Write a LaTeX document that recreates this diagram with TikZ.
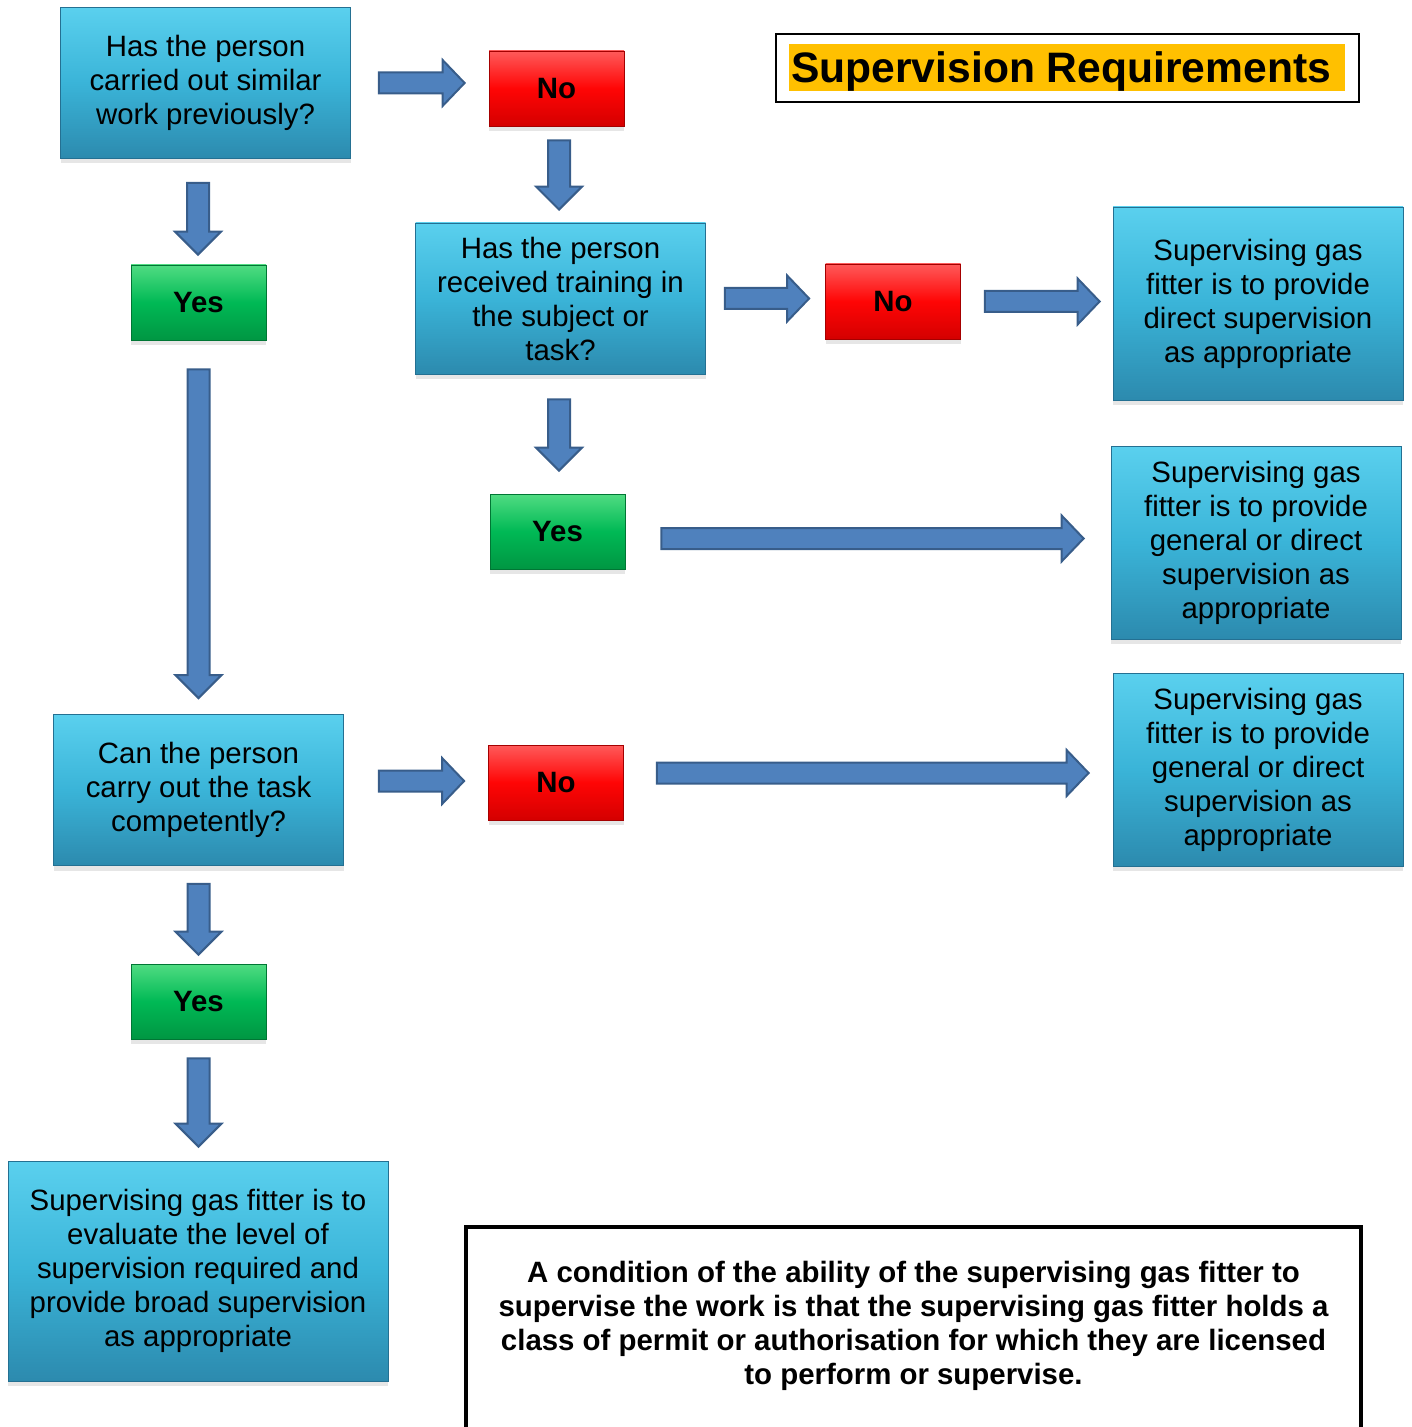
\documentclass[tikz,border=0pt]{standalone}
\usepackage{fontspec}
\setmainfont{Liberation Sans}
\usetikzlibrary{calc,shadows}
\definecolor{boxtop}{RGB}{90,208,238}
\definecolor{boxmid}{RGB}{58,180,216}
\definecolor{boxbot}{RGB}{44,138,174}
\definecolor{boxedge}{RGB}{36,112,146}
\definecolor{yestop}{RGB}{80,220,130}
\definecolor{yesmid}{RGB}{0,185,85}
\definecolor{yesbot}{RGB}{0,150,66}
\definecolor{yesedge}{RGB}{0,118,52}
\definecolor{notop}{RGB}{255,90,90}
\definecolor{nomid}{RGB}{255,5,5}
\definecolor{nobot}{RGB}{212,0,0}
\definecolor{noedge}{RGB}{165,0,0}
\definecolor{arrowfill}{RGB}{79,129,189}
\definecolor{arrowline}{RGB}{56,93,138}
\definecolor{titlebg}{RGB}{255,192,0}

\begin{document}
\begin{tikzpicture}[x=0.5pt, y=-0.5pt,
    every node/.style={
        rectangle,
        inner sep=3pt,
        align=center,
        font=\fontsize{14.7}{17}\selectfont
    },
    question/.style={
        draw=boxedge,
        top color=boxtop, bottom color=boxbot, middle color=boxmid,
        drop shadow={shadow xshift=0pt, shadow yshift=-2.5pt, opacity=0.2},
        minimum width=145pt,
        minimum height=75.5pt
    },
    answer/.style={question, minimum height=96.5pt},
    yesbox/.style={
        draw=yesedge,
        top color=yestop, bottom color=yesbot, middle color=yesmid,
        drop shadow={shadow xshift=0pt, shadow yshift=-2.5pt, opacity=0.2},
        minimum width=67.5pt,
        minimum height=37.5pt,
        font=\fontsize{14.7}{17}\selectfont\bfseries
    },
    nobox/.style={yesbox, draw=noedge,
        top color=notop, bottom color=nobot, middle color=nomid},
    rarrow/.style={draw=arrowline, fill=arrowfill, line width=1pt,
        to path={let \p1=(\tikztostart), \p2=(\tikztotarget) in
            (\x1,\y1+5.25pt) -- (\x2-11pt,\y1+5.25pt) -- (\x2-11pt,\y1+11.5pt) -- (\x2,\y1)
            -- (\x2-11pt,\y1-11.5pt) -- (\x2-11pt,\y1-5.25pt) -- (\x1,\y1-5.25pt) -- cycle}},
    darrow/.style={draw=arrowline, fill=arrowfill, line width=1pt,
        to path={let \p1=(\tikztostart), \p2=(\tikztotarget) in
            (\x1-5.5pt,\y1) -- (\x1-5.5pt,\y2+11.5pt) -- (\x1-11.5pt,\y2+11.5pt) -- (\x1,\y2)
            -- (\x1+11.5pt,\y2+11.5pt) -- (\x1+5.5pt,\y2+11.5pt) -- (\x1+5.5pt,\y1) -- cycle}}
]
    \useasboundingbox (0,0) rectangle (1411,1427);

    \node (title_frame) [draw, line width=1pt, minimum width=291.5pt, minimum height=34pt, shift={(1067.5,68)}] {};
    \node (title) [fill=titlebg, inner sep=1pt, minimum width=275pt, minimum height=23.5pt, text depth=0pt,
        font=\fontsize{21.3}{24}\selectfont\bfseries, shift={(1067,67.5)}]
    {
        Supervision Requirements
    };

    \node (has_done_before) [question, shift={(205.5,83)}]
    {
        Has the person\\carried out similar\\work previously?
    };
    \node (not_done_before) [nobox, shift={(556.5,88.5)}] {No};
    \node (done_before) [yesbox, shift={(198.5,302.5)}] {Yes};
    \node (has_training) [question, shift={(560.5,298.5)}]
    {
        Has the person\\received training in\\the subject or\\task?
    };
    \node (no_training) [nobox, shift={(893,301.5)}] {No};
    \node (direct_supervision) [answer, shift={(1258,303.5)}]
    {
        Supervising gas\\fitter is to provide\\direct supervision\\as appropriate
    };
    \node (trained) [yesbox, shift={(557.5,531.5)}] {Yes};
    \node (trained_supervision) [answer, shift={(1256,542.5)}]
    {
        Supervising gas\\fitter is to provide\\general or direct\\supervision as\\appropriate
    };
    \node (is_competent) [question, shift={(198.5,790)}]
    {
        Can the person\\carry out the task\\competently?
    };
    \node (not_competent) [nobox, shift={(556,782.5)}] {No};
    \node (untrained_supervision) [answer, shift={(1258,769.5)}]
    {
        Supervising gas\\fitter is to provide\\general or direct\\supervision as\\appropriate
    };
    \node (competent) [yesbox, shift={(198.5,1001.5)}] {Yes};
    \node (broad_supervision) [question, minimum width=190pt, minimum height=110pt, shift={(198,1271)}]
    {
        Supervising gas fitter is to\\evaluate the level of\\supervision required and\\provide broad supervision\\as appropriate
    };
    \node (licence_note) [font=\fontsize{14.7}{17}\selectfont\bfseries, shift={(913.5,1326)}]
    {
        A condition of the ability of the supervising gas fitter to\\supervise the work is that the supervising gas fitter holds a\\class of permit or authorisation for which they are licensed\\to perform or supervise.
    };
    \draw[line width=2pt] (466,1450) |- (1361,1227) -- (1361,1450);

    \draw[rarrow] ([xshift=14pt]has_done_before.east) to ([xshift=-12pt]not_done_before.west);
    \draw[darrow] ([xshift=1.25pt, yshift=-7pt]not_done_before.south) to ([yshift=6.5pt]has_training.north);
    \draw[rarrow] ([xshift=9.5pt]has_training.east) to ([xshift=-8pt]no_training.west);
    \draw[rarrow] ([xshift=12pt]no_training.east) to ([xshift=-6.5pt]direct_supervision.west);
    \draw[darrow] ([xshift=-0.75pt, yshift=-12.5pt]has_training.south) to ([yshift=11.5pt]trained.north);
    \draw[rarrow] ([xshift=18pt, yshift=-3.5pt]trained.east) to ([xshift=-13.5pt]trained_supervision.west);
    \draw[darrow] ([xshift=-3.75pt, yshift=-12pt]has_done_before.south) to ([yshift=5pt]done_before.north);
    \draw[darrow] ([yshift=-14.5pt]done_before.south) to ([yshift=8pt]is_competent.north);
    \draw[rarrow] ([xshift=17.5pt, yshift=4.5pt]is_competent.east) to ([xshift=-12pt]not_competent.west);
    \draw[rarrow] ([xshift=16.5pt, yshift=4.75pt]not_competent.east) to ([xshift=-12pt]untrained_supervision.west);
    \draw[darrow] ([yshift=-9pt]is_competent.south) to ([yshift=4.5pt]competent.north);
    \draw[darrow] ([yshift=-9.5pt]competent.south) to ([yshift=7pt]broad_supervision.north);
\end{tikzpicture}
\end{document}
